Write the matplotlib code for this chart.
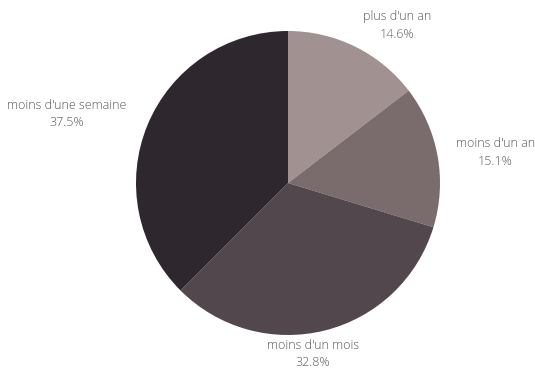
import numpy as np
import matplotlib.pyplot as plt

labels = ["plus d'un an", "moins d'un an", "moins d'un mois", "moins d'une semaine"]
values = [14.6, 15.1, 32.8, 37.5]
colors = ['#a19191', '#7a6b6c', '#52474d', '#2e272d']

fig = plt.figure(figsize=(5.35, 3.69), dpi=100)
ax = fig.add_axes([0, 0, 1, 1])

cx, cy, r = 288, 369 - 183, 152
wedges, _ = ax.pie(values, colors=colors, startangle=90, counterclock=False,
                   center=(cx, cy), radius=r, frame=True)
ax.set_xlim(0, 535)
ax.set_ylim(0, 369)
ax.set_aspect('equal')
ax.axis('off')

# etiquettes a l'exterieur
for w, lab, v in zip(wedges, labels, values):
    ang = np.deg2rad((w.theta1 + w.theta2) / 2)
    dx, dy = np.cos(ang), np.sin(ang)
    d = r * 1.12
    if abs(dx) < 0.3:
        ha = 'center'
        x = cx + d * dx * 0.6
    else:
        ha = 'left' if dx > 0 else 'right'
        x = cx + d * dx
    y = cy + d * dy
    va = 'center'
    if dy < -0.9:
        va = 'top'
        y = cy - r - 4
    elif dx < 0:
        x -= 4
        y += 4
    elif dy > 0.5:
        y += 5
    ax.text(x, y, f"{lab}\n{v:.1f}%", ha=ha, va=va, multialignment='center',
            fontsize=9, family='Open Sans', weight='light', color='#5a5a5a',
            linespacing=1.45)

fig.savefig('out.png', dpi=100)
